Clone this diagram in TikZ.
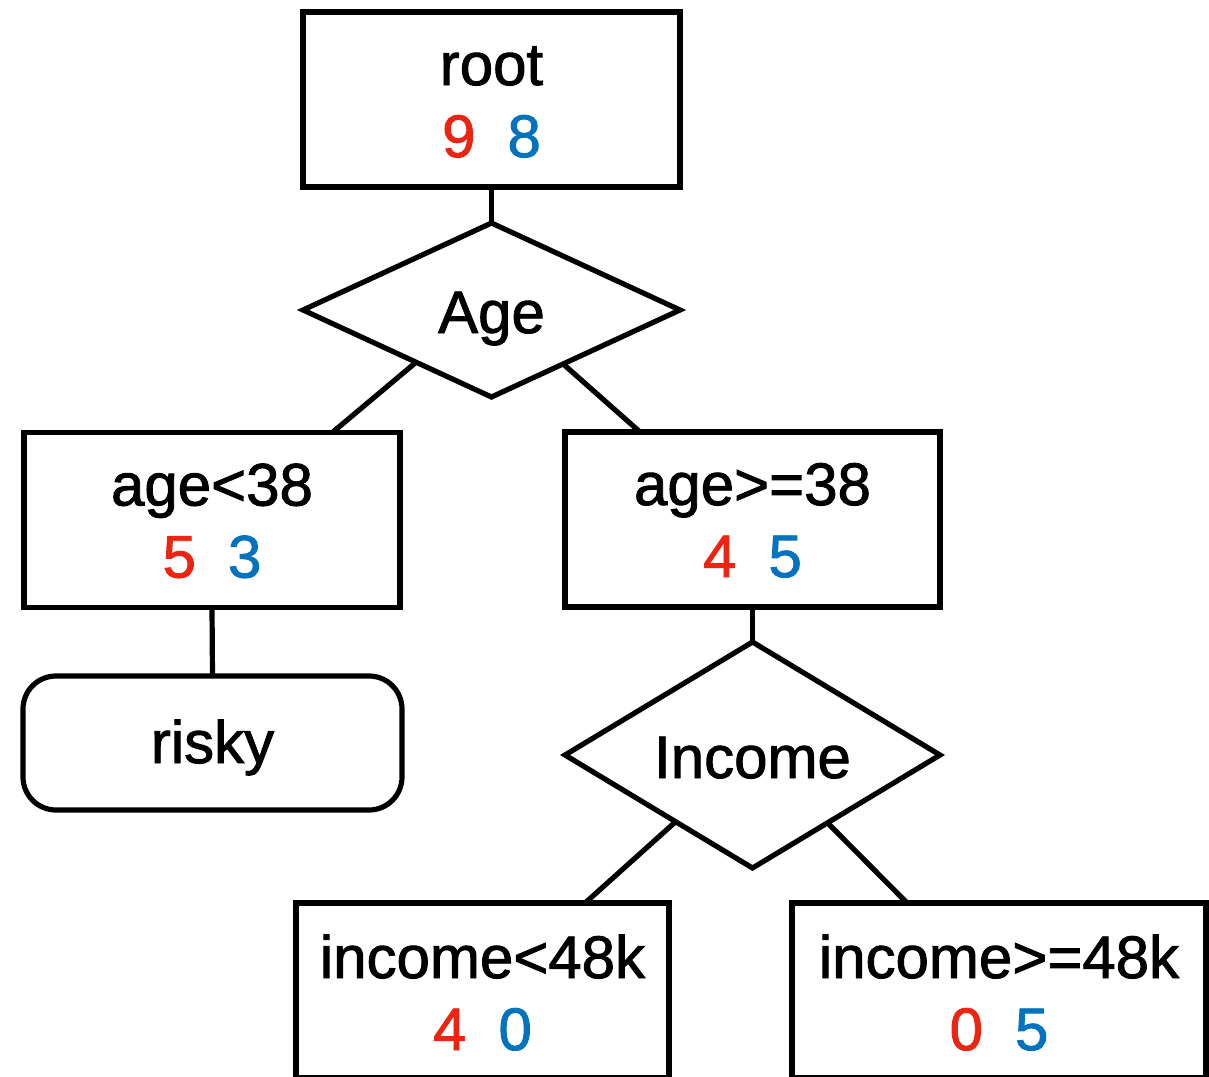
\documentclass[tikz,border=0pt]{standalone}
\usepackage{fontspec}
\setmainfont{Liberation Sans}[FakeBold=1.5]
\usetikzlibrary{shapes.geometric,calc}
\definecolor{cntred}{RGB}{236,36,18}
\definecolor{cntblue}{RGB}{4,114,188}
% class counts: red first, blue second
\newcommand\splitcounts[2]{\textcolor{cntred}{#1}\hspace{32pt}\textcolor{cntblue}{#2}}
\begin{document}
\begin{tikzpicture}[x=1pt,y=-1pt,
  every node/.style={font=\fontsize{60}{70}\selectfont},
  edge/.style={line width=5.2pt},
  box/.style={draw,line width=5.2pt,minimum height=175pt,inner sep=0pt,outer sep=0pt},
  leaf/.style={draw,line width=5.2pt,rounded corners=33pt,inner sep=0pt,outer sep=0pt,
    text height=40pt,text depth=0pt},
  dia/.style={draw,shape=diamond,line width=5.2pt,inner sep=0pt,outer sep=0pt,
    text height=46pt,text depth=0pt},
  txt/.style={anchor=base,inner sep=0pt}
]
\useasboundingbox (0,0) rectangle (1209,1076);

% root
\node[box,minimum width=377pt] (root) at (491.5,99.5) {};
\node[txt] (rootname) at ($(root.north)+(0,73)$) {root};
\node[txt] (rootcnt) at ($(root.north)+(0,145)$) {\splitcounts{9}{8}};

% first split
\node[dia,minimum width=377pt,minimum height=174pt,aspect=2.15] (age) at (491.5,310) {Age};

\node[box,minimum width=376pt] (ageL) at (212,520) {};
\node[txt] (ageLname) at ($(ageL.north)+(0,73)$) {age<38};
\node[txt] (ageLcnt) at ($(ageL.north)+(0,145)$) {\splitcounts{5}{3}};

\node[box,minimum width=375pt] (ageR) at (752.5,519.5) {};
\node[txt] (ageRname) at ($(ageR.north)+(0,73)$) {age>=38};
\node[txt] (ageRcnt) at ($(ageR.north)+(0,145)$) {\splitcounts{4}{5}};

\node[leaf,minimum width=379pt,minimum height=134pt] (risky) at (212.5,743) {risky};

% second split
\node[dia,minimum width=375pt,minimum height=226pt,aspect=1.66] (income) at (752.5,755) {Income};

\node[box,minimum width=373pt] (incL) at (482.5,990.5) {};
\node[txt] (incLname) at ($(incL.north)+(0,75)$) {income<48k};
\node[txt] (incLcnt) at ($(incL.north)+(0,147)$) {\splitcounts{4}{0}};

\node[box,minimum width=414pt] (incR) at (999,990.5) {};
\node[txt] (incRname) at ($(incR.north)+(0,75)$) {income>=48k};
\node[txt] (incRcnt) at ($(incR.north)+(0,147)$) {\splitcounts{0}{5}};

% connectors
\draw[edge] (root.south) -- (age.north);
\draw[edge] ($(age.west)!0.6!(age.south)$) -- ($(ageL.north west)!0.82!(ageL.north east)$);
\draw[edge] ($(age.south)!0.38!(age.east)$) -- ($(ageR.north west)!0.2!(ageR.north east)$);
\draw[edge] (ageL.south) -- (risky.north);
\draw[edge] (ageR.south) -- (income.north);
\draw[edge] ($(income.west)!0.59!(income.south)$) -- ($(incL.north west)!0.775!(incL.north east)$);
\draw[edge] ($(income.south)!0.4!(income.east)$) -- ($(incR.north west)!0.278!(incR.north east)$);
\end{tikzpicture}
\end{document}
